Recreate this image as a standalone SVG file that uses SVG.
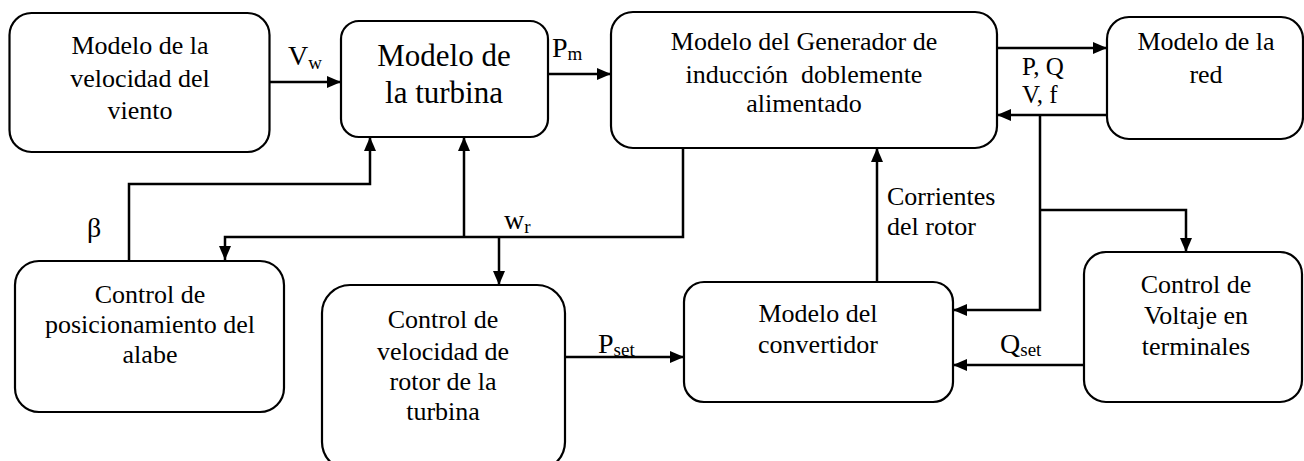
<svg xmlns="http://www.w3.org/2000/svg" width="1304" height="461" viewBox="0 0 1304 461">
<style>
.box{fill:#fff;stroke:#000;stroke-width:2.2}
.t{font-family:"Liberation Serif","Times New Roman",serif;font-size:26px;fill:#000;text-anchor:middle}
.big{font-size:31px}
.lbl{font-family:"Liberation Serif","Times New Roman",serif;font-size:28px;fill:#000}
.sub{font-size:19px}
.c{fill:none;stroke:#000;stroke-width:2.5}
</style>
<defs>
<marker id="ah" markerUnits="userSpaceOnUse" markerWidth="14" markerHeight="12" refX="14" refY="6" orient="auto">
<path d="M0,0 L14,6 L0,12 Z" fill="#000"/>
</marker>
</defs>
<rect width="1304" height="461" fill="#fff"/>
<g id="connectors">
<line class="c" x1="270" y1="82" x2="341" y2="82" marker-end="url(#ah)"/>
<line class="c" x1="548" y1="74" x2="611" y2="74" marker-end="url(#ah)"/>
<line class="c" x1="994" y1="48" x2="1107" y2="48" marker-end="url(#ah)"/>
<line class="c" x1="1107" y1="115" x2="997" y2="115" marker-end="url(#ah)"/>
<polyline class="c" points="1040,115 1040,310 953,310" marker-end="url(#ah)"/>
<polyline class="c" points="1040,210 1186,210 1186,252" marker-end="url(#ah)"/>
<line class="c" x1="1084" y1="365" x2="953" y2="365" marker-end="url(#ah)"/>
<line class="c" x1="565" y1="357" x2="684" y2="357" marker-end="url(#ah)"/>
<line class="c" x1="877" y1="282" x2="877" y2="148" marker-end="url(#ah)"/>
<polyline class="c" points="683,148 683,237 225,237 225,260" marker-end="url(#ah)"/>
<line class="c" x1="499" y1="237" x2="499" y2="285" marker-end="url(#ah)"/>
<line class="c" x1="464" y1="237" x2="464" y2="137" marker-end="url(#ah)"/>
<polyline class="c" points="129,260 129,184 370,184 370,137" marker-end="url(#ah)"/>
</g>
<g id="labels">
<text class="lbl" x="288" y="65">V<tspan class="sub" dy="4">w</tspan></text>
<text class="lbl" x="552" y="57">P<tspan class="sub" dy="3">m</tspan></text>
<text class="lbl" x="1022" y="75" style="font-size:25px">P, Q</text>
<text class="lbl" x="1022" y="103" style="font-size:25px">V, f</text>
<text class="lbl" x="87" y="237">β</text>
<text class="lbl" x="504" y="229">w<tspan class="sub" dy="4">r</tspan></text>
<text class="lbl" x="598" y="353">P<tspan class="sub" dy="3">set</tspan></text>
<text class="lbl" x="1000" y="353">Q<tspan class="sub" dy="3">set</tspan></text>
<text class="t" x="887" y="205" style="text-anchor:start">Corrientes</text>
<text class="t" x="887" y="235" style="text-anchor:start">del rotor</text>
</g>
<g id="n-viento">
<rect class="box" x="9.5" y="13" width="260" height="139" rx="22"/>
<text class="t" x="140" y="54">Modelo de la</text>
<text class="t" x="140" y="87">velocidad del</text>
<text class="t" x="140" y="119">viento</text>
</g>
<g id="n-turbina">
<rect class="box" x="341" y="21" width="207" height="116" rx="18"/>
<text class="t big" x="444" y="66">Modelo de</text>
<text class="t big" x="444" y="103">la turbina</text>
</g>
<g id="n-generador">
<rect class="box" x="611" y="12" width="386" height="136" rx="22"/>
<text class="t" x="804" y="50">Modelo del Generador de</text>
<text class="t" x="804" y="83" style="white-space:pre">inducción  doblemente</text>
<text class="t" x="804" y="112">alimentado</text>
</g>
<g id="n-red">
<rect class="box" x="1107" y="17" width="196" height="122" rx="22"/>
<text class="t" x="1206" y="50">Modelo de la</text>
<text class="t" x="1206" y="83">red</text>
</g>
<g id="n-posicionamiento">
<rect class="box" x="15" y="261" width="269" height="151" rx="24"/>
<text class="t" x="150" y="303">Control de</text>
<text class="t" x="150" y="333">posicionamiento del</text>
<text class="t" x="150" y="363">alabe</text>
</g>
<g id="n-velocidad">
<rect class="box" x="322" y="285" width="243" height="185" rx="28"/>
<text class="t" x="443" y="328">Control de</text>
<text class="t" x="443" y="360">velocidad de</text>
<text class="t" x="443" y="390">rotor de la</text>
<text class="t" x="443" y="420">turbina</text>
</g>
<g id="n-convertidor">
<rect class="box" x="684" y="282" width="269" height="120" rx="20"/>
<text class="t" x="818" y="322">Modelo del</text>
<text class="t" x="818" y="353">convertidor</text>
</g>
<g id="n-voltaje">
<rect class="box" x="1084" y="252" width="218" height="150" rx="22"/>
<text class="t" x="1196" y="293">Control de</text>
<text class="t" x="1196" y="324">Voltaje en</text>
<text class="t" x="1196" y="355">terminales</text>
</g>
</svg>
